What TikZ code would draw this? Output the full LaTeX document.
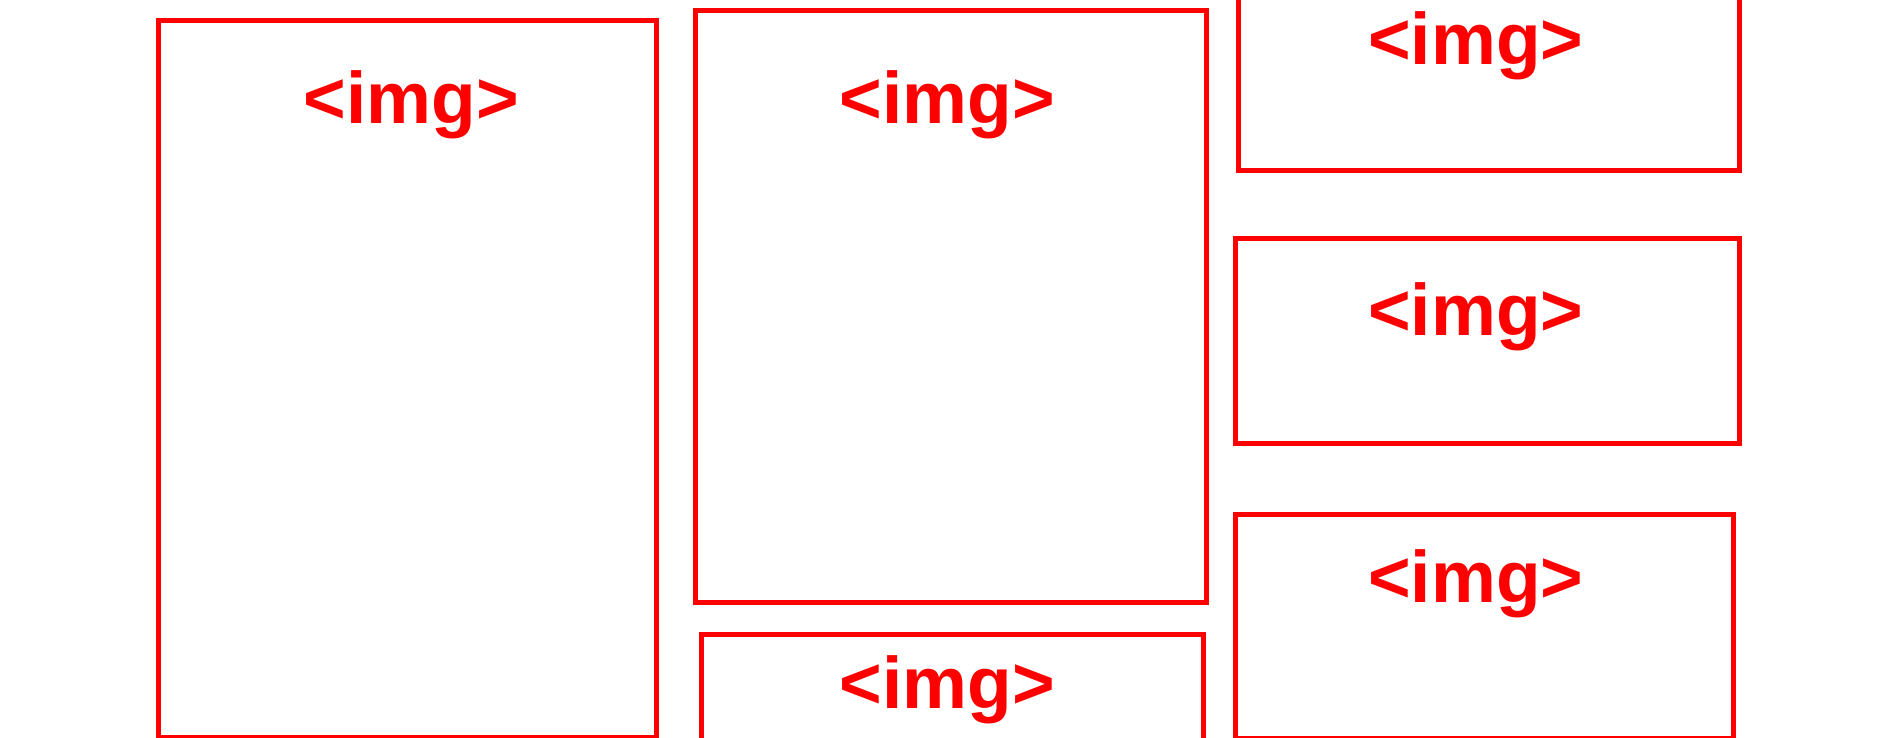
\documentclass[tikz,border=0pt]{standalone}
\usepackage{fontspec}
\setmainfont{Liberation Sans}

\begin{document}
\begin{tikzpicture}
[x=1pt,y=-1pt,
 imgbox/.style={draw=red,line width=5pt,inner sep=0pt,anchor=north west},
 imglabel/.style={text=red,inner sep=0pt,anchor=base,font=\bfseries\fontsize{73}{80}\selectfont}]
\useasboundingbox (0,0) rectangle (1896,738);
\clip (0,0) rectangle (1896,738);
% frames
\foreach \name/\x/\y/\w/\h in {b1/155.7/17.7/498.2/717.3,b2/692.6/8.3/510.9/592,b3/698.8/632.3/501.7/130,
  r1/1235.5/-20/501.7/188,r2/1232.7/236.3/504.5/205,r3/1232.7/512.3/498.3/223.5}
\node[imgbox,minimum width=\w pt,minimum height=\h pt] (\name) at (\x,\y) {};
% labels
\foreach \name/\x/\y in {t1/411.1/124,t2/947.5/124,t3/947.5/708.7,t4/1475.7/64.7,t5/1475.7/335.3,t6/1475.7/602.7}
\node[imglabel] (\name) at (\x,\y) {\textless img\textgreater};
\end{tikzpicture}
\end{document}
